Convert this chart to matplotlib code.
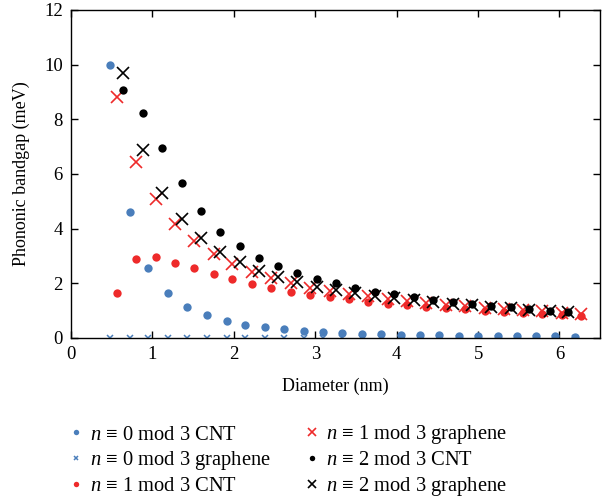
import matplotlib
matplotlib.use("Agg")
import matplotlib.pyplot as plt

plt.rcParams['font.family'] = ['Liberation Serif', 'DejaVu Serif']
plt.rcParams['mathtext.fontset'] = 'custom'
plt.rcParams['mathtext.it'] = 'Liberation Serif:italic'
plt.rcParams['mathtext.rm'] = 'Liberation Serif'

# diameters (nm)
d0 = [0.48, 0.72, 0.95, 1.19, 1.43, 1.67, 1.91, 2.14, 2.38, 2.62, 2.86, 3.10, 3.33,
      3.57, 3.81, 4.05, 4.29, 4.52, 4.76, 5.00, 5.24, 5.48, 5.71, 5.95, 6.19]
d1 = [0.56, 0.80, 1.04, 1.28, 1.51, 1.75, 1.98, 2.22, 2.46, 2.70, 2.94, 3.18, 3.41,
      3.65, 3.89, 4.13, 4.36, 4.60, 4.84, 5.08, 5.32, 5.55, 5.79, 6.03, 6.27]
d2 = [0.64, 0.88, 1.12, 1.36, 1.60, 1.83, 2.07, 2.31, 2.54, 2.78, 3.02, 3.26,
      3.49, 3.73, 3.97, 4.21, 4.45, 4.69, 4.92, 5.16, 5.40, 5.63, 5.88, 6.11]

# phononic bandgap (meV)
cnt0 = [10.0, 4.62, 2.57, 1.64, 1.15, 0.84, 0.63, 0.49, 0.39, 0.32, 0.26, 0.22, 0.19,
        0.16, 0.14, 0.12, 0.11, 0.10, 0.09, 0.08, 0.07, 0.065, 0.06, 0.055, 0.05]
gra0 = [0.0] * len(d0)
cnt1 = [1.64, 2.89, 2.95, 2.76, 2.56, 2.34, 2.15, 1.96, 1.84, 1.69, 1.58, 1.49, 1.42,
        1.33, 1.25, 1.20, 1.13, 1.09, 1.05, 1.00, 0.95, 0.91, 0.88, 0.85, 0.82]
gra1 = [8.83, 6.43, 5.09, 4.17, 3.54, 3.07, 2.71, 2.43, 2.20, 2.00, 1.84, 1.72, 1.62,
        1.52, 1.43, 1.36, 1.29, 1.22, 1.16, 1.10, 1.05, 1.01, 0.97, 0.93, 0.89]
cnt2 = [9.07, 8.24, 6.96, 5.68, 4.63, 3.88, 3.35, 2.94, 2.63, 2.37, 2.16, 2.00,
        1.84, 1.70, 1.60, 1.49, 1.39, 1.31, 1.24, 1.18, 1.12, 1.06, 1.00, 0.96]
gra2 = [9.69, 6.87, 5.32, 4.34, 3.66, 3.16, 2.78, 2.46, 2.24, 2.05, 1.88, 1.76,
        1.65, 1.55, 1.46, 1.38, 1.31, 1.25, 1.19, 1.13, 1.08, 1.04, 1.00, 0.96]

blue = '#4a7ebb'
red = '#ee2a2a'

fig = plt.figure(figsize=(6.02, 5.0), dpi=100)
ax = fig.add_axes([0.118, 0.324, 0.879, 0.656])

ax.plot(d0, cnt0, 'o', color=blue, ms=6, mew=0, label=r'$n$ ≡ 0 mod 3 CNT')
ax.plot(d0, gra0, 'x', color=blue, ms=5, mew=1.1, label=r'$n$ ≡ 0 mod 3 graphene')
ax.plot(d1, cnt1, 'o', color=red, ms=6, mew=0, label=r'$n$ ≡ 1 mod 3 CNT')
ax.plot(d1, gra1, 'x', color=red, ms=8, mew=1.2, label=r'$n$ ≡ 1 mod 3 graphene')
ax.plot(d2, cnt2, 'o', color='black', ms=6, mew=0, label=r'$n$ ≡ 2 mod 3 CNT')
ax.plot(d2, gra2, 'x', color='black', ms=8, mew=1.2, label=r'$n$ ≡ 2 mod 3 graphene')

ax.set_xlim(0, 6.5)
ax.set_ylim(0, 12)
ax.set_xticks(range(0, 7))
ax.set_yticks(range(0, 13, 2))
ax.tick_params(direction='in', top=True, right=True, length=5, width=1,
               labelsize=13.5, pad=6)
for s in ax.spines.values():
    s.set_linewidth(1)

ax.set_xlabel('Diameter (nm)', fontsize=13, labelpad=10)
ax.set_ylabel('Phononic bandgap (meV)', fontsize=13, labelpad=10)

fig.legend(*ax.get_legend_handles_labels(), loc='upper left',
           bbox_to_anchor=(0.078, 0.19), ncol=2, frameon=False,
           fontsize=14.8, markerscale=0.65, handlelength=1.0, handletextpad=0.2,
           columnspacing=1.5, labelspacing=0.22)

fig.savefig('out.png', dpi=100)
